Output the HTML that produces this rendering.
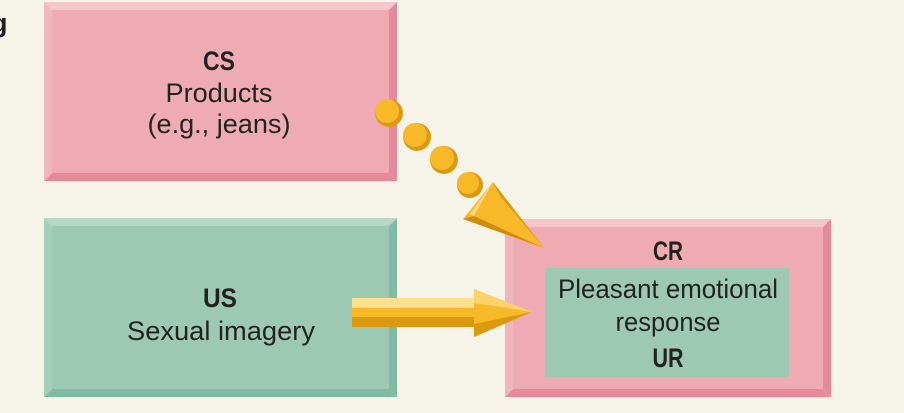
<!DOCTYPE html>
<html><head><meta charset="utf-8"><style>
body{margin:0;background:#f6f3e8;}
svg{display:block}
text{font-family:"Liberation Sans",sans-serif;fill:#222;text-anchor:middle;font-size:27px}
.b{font-weight:bold}
</style></head><body>
<svg width="904" height="413" viewBox="0 0 904 413">
<rect width="904" height="413" fill="#f6f3e8"/>
<text x="-9" y="32" class="b" style="text-anchor:start" font-size="27">g</text>
<!-- CS box -->
<polygon points="44,2 397,2 389,10 52,10" fill="#f4c5ca"/>
<polygon points="397,2 397,181 389,173 389,10" fill="#e68a9a"/>
<polygon points="44,181 397,181 389,173 52,173" fill="#e68a9a"/>
<polygon points="44,2 52,10 52,173 44,181" fill="#f0b6bd"/>
<rect x="52" y="10" width="337" height="163" fill="#eeabb3"/>
<text x="219" y="70" class="b" textLength="32" lengthAdjust="spacingAndGlyphs">CS</text>
<text x="219" y="102" textLength="107" lengthAdjust="spacingAndGlyphs">Products</text>
<text x="219" y="133" textLength="143" lengthAdjust="spacingAndGlyphs">(e.g., jeans)</text>
<!-- US box -->
<polygon points="44,218 397,218 389,226 52,226" fill="#b6d7c6"/>
<polygon points="397,218 397,397 389,389 389,226" fill="#80bca4"/>
<polygon points="44,397 397,397 389,389 52,389" fill="#80bca4"/>
<polygon points="44,218 52,226 52,389 44,397" fill="#a6cfbb"/>
<rect x="52" y="226" width="337" height="163" fill="#9dc9b4"/>
<text x="220" y="307" class="b" textLength="34" lengthAdjust="spacingAndGlyphs">US</text>
<text x="221" y="340" textLength="188" lengthAdjust="spacingAndGlyphs">Sexual imagery</text>
<!-- CR box -->
<polygon points="505,219 831,219 823,227 513,227" fill="#f4c5ca"/>
<polygon points="831,219 831,397 823,389 823,227" fill="#e68a9a"/>
<polygon points="505,397 831,397 823,389 513,389" fill="#e68a9a"/>
<polygon points="505,219 513,227 513,389 505,397" fill="#f0b6bd"/>
<rect x="513" y="227" width="310" height="162" fill="#eeabb3"/>
<rect x="545" y="268" width="244" height="109" fill="#9dc9b4"/>
<text x="668" y="260" class="b" textLength="30" lengthAdjust="spacingAndGlyphs">CR</text>
<text x="668" y="298" textLength="220" lengthAdjust="spacingAndGlyphs">Pleasant emotional</text>
<text x="668" y="331" textLength="105" lengthAdjust="spacingAndGlyphs">response</text>
<text x="668" y="367" class="b" textLength="31" lengthAdjust="spacingAndGlyphs">UR</text>
<!-- dots -->
<g>
<circle cx="389" cy="113" r="14" fill="#d99a12"/><circle cx="387" cy="111" r="12" fill="#f7b928"/>
<circle cx="417" cy="137" r="14" fill="#d99a12"/><circle cx="415" cy="135" r="12" fill="#f7b928"/>
<circle cx="444" cy="160" r="14" fill="#d99a12"/><circle cx="442" cy="158" r="12" fill="#f7b928"/>
<circle cx="470" cy="185" r="13" fill="#d99a12"/><circle cx="468" cy="183" r="11" fill="#f7b928"/>
</g>
<!-- triangle head -->
<polygon points="493,182 463,219 544,248" fill="#f7b928"/>
<polygon points="493,182 544,248 500,196" fill="#d99a12"/>
<polygon points="463,219 474,216 544,248" fill="#cf8c10"/>
<polygon points="493,182 470,214 474,216" fill="#fbd77a"/>
<!-- straight arrow -->
<rect x="352" y="298" width="124" height="10" fill="#fde08c"/>
<rect x="352" y="308" width="124" height="9" fill="#f7b928"/>
<rect x="352" y="317" width="124" height="10" fill="#d99a12"/>
<polygon points="474,289 532,312 474,337" fill="#f7b928"/>
<polygon points="474,289 532,312 474,303" fill="#fcd269"/>
<polygon points="474,337 532,312 474,324" fill="#d99a12"/>
</svg>
</body></html>
